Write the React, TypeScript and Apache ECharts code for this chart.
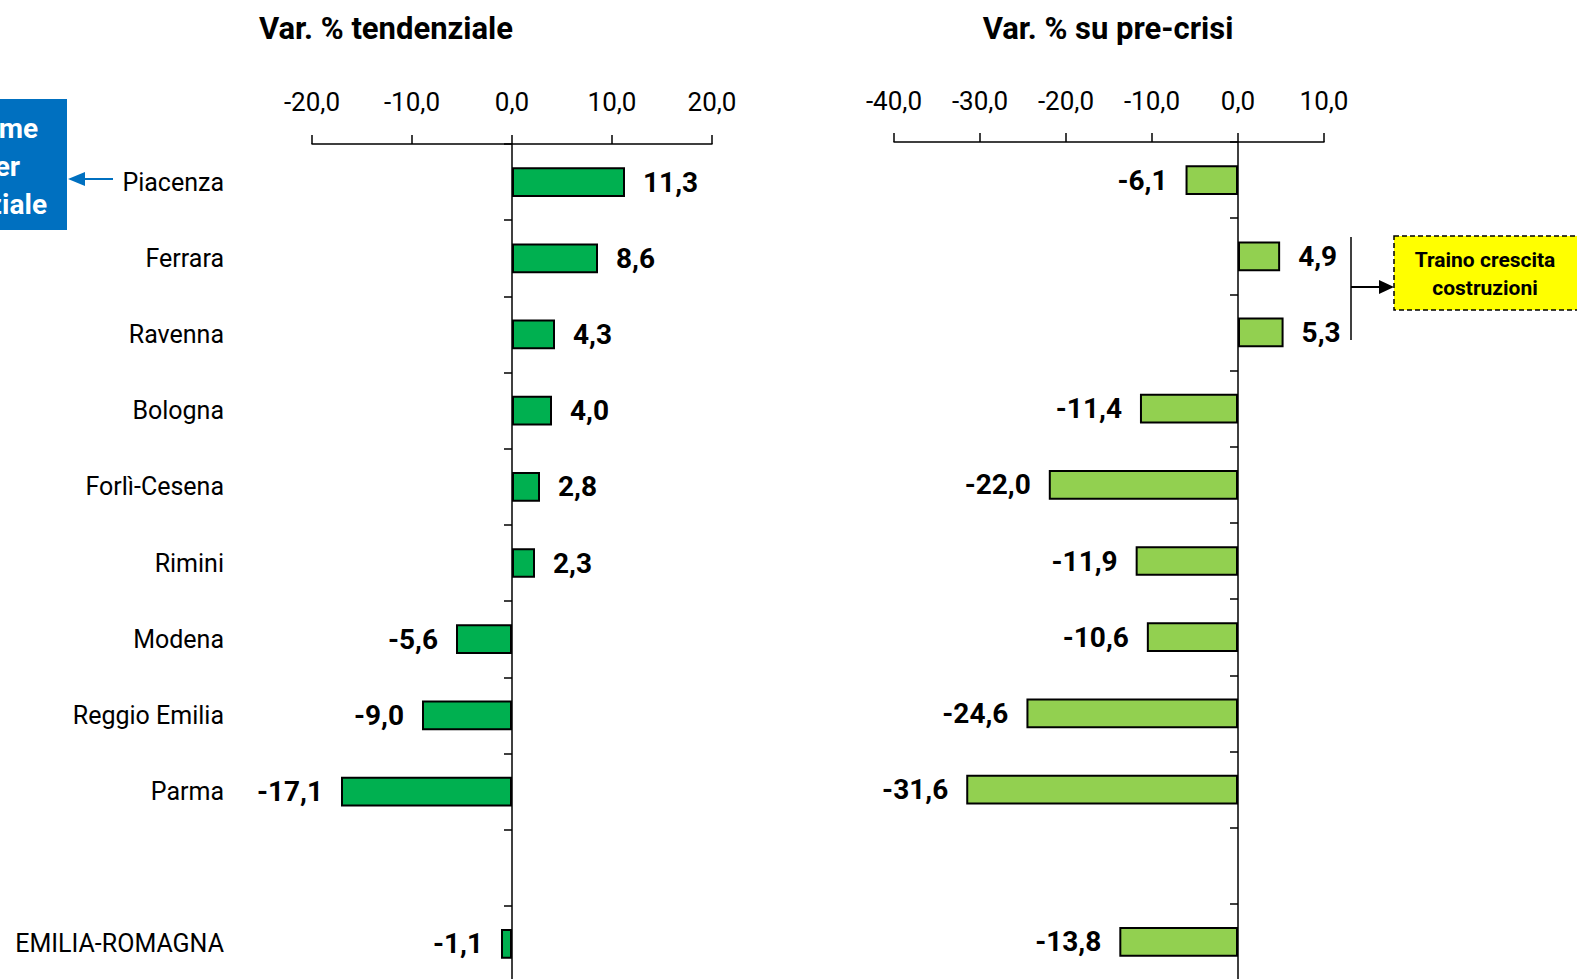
import React, { useEffect, useRef } from "react";
import * as echarts from "echarts";

const categories = [
  "Piacenza",
  "Ferrara",
  "Ravenna",
  "Bologna",
  "Forlì-Cesena",
  "Rimini",
  "Modena",
  "Reggio Emilia",
  "Parma",
  "",
  "EMILIA-ROMAGNA",
];
const varTendenziale: (number | null)[] = [11.3, 8.6, 4.3, 4.0, 2.8, 2.3, -5.6, -9.0, -17.1, null, -1.1];
const varPreCrisi: (number | null)[] = [-6.1, 4.9, 5.3, -11.4, -22.0, -11.9, -10.6, -24.6, -31.6, null, -13.8];
const leftTicks = { min: -20, max: 20, interval: 10 };
const rightTicks = { min: -40, max: 10, interval: 10 };
const titles = ["Var. % tendenziale", "Var. % su pre-crisi"];
const boxLines = ["me", "er", "ziale"];
const noteLines = ["Traino crescita", "costruzioni"];

const FONT = '"Liberation Sans Narrow", "Arial Narrow", "Roboto", sans-serif';
const fmt = (v: number) => v.toFixed(1).replace(".", ",");

function buildData(vals: (number | null)[]) {
  return vals.map((v) =>
    v == null
      ? null
      : {
          value: v,
          label: { position: v >= 0 ? "right" : "left" },
        }
  );
}

export default function App() {
  const ref = useRef<HTMLDivElement>(null);
  useEffect(() => {
    if (!ref.current) return;
    const chart = echarts.init(ref.current, undefined, { renderer: "svg" });
    const xAxisCommon = (t: { min: number; max: number; interval: number }, gi: number, margin: number) => ({
      type: "value",
      gridIndex: gi,
      position: "top",
      min: t.min,
      max: t.max,
      interval: t.interval,
      splitLine: { show: false },
      axisLine: { show: true, onZero: false, lineStyle: { color: "#000", width: 1.5 } },
      axisTick: { show: true, length: 9, lineStyle: { color: "#000", width: 1.5 } },
      axisLabel: {
        margin,
        color: "#000",
        fontFamily: FONT,
        fontSize: 26,
        formatter: (v: number) => fmt(v),
      },
    });
    const yAxisCommon = (gi: number, showLabels: boolean, margin: number) => ({
      type: "category",
      gridIndex: gi,
      data: categories,
      inverse: true,
      axisLine: { show: true, onZero: true, lineStyle: { color: "#000", width: 1.5 } },
      axisTick: { show: true, length: 8, interval: 0, lineStyle: { color: "#000", width: 1.5 } },
      axisLabel: {
        show: showLabels,
        interval: 0,
        margin,
        color: "#000",
        fontFamily: FONT,
        fontSize: 25,
      },
    });
    const labelCommon = {
      show: true,
      distance: 18,
      color: "#000",
      fontWeight: "bold",
      fontFamily: FONT,
      fontSize: 28,
      formatter: (p: any) => fmt(p.value),
    };
    chart.setOption({
      animation: false,
      backgroundColor: "#fff",
      textStyle: { fontFamily: FONT },
      grid: [
        { left: 312, width: 400, top: 144, height: 838, outerBoundsMode: "none", containLabel: false },
        { left: 894, width: 430, top: 142, height: 838, outerBoundsMode: "none", containLabel: false },
      ],
      xAxis: [xAxisCommon(leftTicks, 0, 29), xAxisCommon(rightTicks, 1, 28)],
      yAxis: [yAxisCommon(0, true, 88), yAxisCommon(1, false, 8)],
      series: [
        {
          type: "bar",
          xAxisIndex: 0,
          yAxisIndex: 0,
          data: buildData(varTendenziale),
          barWidth: "39%",
          itemStyle: { color: "#00B050", borderColor: "#000", borderWidth: 2 },
          label: labelCommon,
        },
        {
          type: "bar",
          xAxisIndex: 1,
          yAxisIndex: 1,
          data: buildData(varPreCrisi),
          barWidth: "39%",
          itemStyle: { color: "#92D050", borderColor: "#000", borderWidth: 2 },
          label: labelCommon,
        },
      ],
      graphic: [
        {
          type: "text",
          x: 386,
          y: 28,
          style: {
            text: titles[0],
            fontFamily: FONT,
            fontWeight: "bold",
            fontSize: 31,
            fill: "#000",
            textAlign: "center",
            textVerticalAlign: "middle",
          },
        },
        {
          type: "text",
          x: 1108,
          y: 28,
          style: {
            text: titles[1],
            fontFamily: FONT,
            fontWeight: "bold",
            fontSize: 31,
            fill: "#000",
            textAlign: "center",
            textVerticalAlign: "middle",
          },
        },
        {
          type: "rect",
          shape: { x: 0, y: 99, width: 67, height: 131 },
          style: { fill: "#0070C0" },
        },
        ...boxLines.map((t, i) => ({
          type: "text",
          x: [38, 20, 47][i],
          y: 128 + i * 38,
          style: {
            text: t,
            fontFamily: FONT,
            fontWeight: "bold",
            fontSize: 28,
            fill: "#fff",
            textAlign: "right",
            textVerticalAlign: "middle",
          },
        })),
        {
          type: "line",
          shape: { x1: 113, y1: 179, x2: 80, y2: 179 },
          style: { stroke: "#0070C0", lineWidth: 2 },
        },
        {
          type: "polygon",
          shape: { points: [[68, 179], [85, 172], [85, 186]] },
          style: { fill: "#0070C0" },
        },
        {
          type: "line",
          shape: { x1: 1351, y1: 237, x2: 1351, y2: 340 },
          style: { stroke: "#000", lineWidth: 1.5 },
        },
        {
          type: "line",
          shape: { x1: 1351, y1: 287, x2: 1382, y2: 287 },
          style: { stroke: "#000", lineWidth: 2 },
        },
        {
          type: "polygon",
          shape: { points: [[1394, 287], [1379, 280], [1379, 294]] },
          style: { fill: "#000" },
        },
        {
          type: "rect",
          shape: { x: 1394, y: 236, width: 200, height: 74 },
          style: { fill: "#FFFF00", stroke: "#000", lineWidth: 1.5, lineDash: [5, 3] },
        },
        ...noteLines.map((t, i) => ({
          type: "text",
          x: 1485,
          y: 260 + i * 28,
          style: {
            text: t,
            fontFamily: FONT,
            fontWeight: "bold",
            fontSize: 21,
            fill: "#000",
            textAlign: "center",
            textVerticalAlign: "middle",
          },
        })),
      ],
    });
    return () => chart.dispose();
  }, []);
  return (
    <div
      ref={ref}
      style={{ position: "fixed", left: 0, top: 0, width: 1577, height: 979 }}
    />
  );
}
